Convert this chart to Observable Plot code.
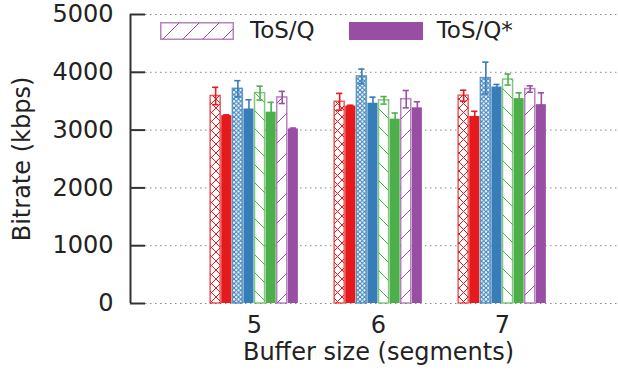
<!DOCTYPE html>
<html><head><meta charset="utf-8">
<script src="https://cdn.jsdelivr.net/npm/d3@7"></script>
<script src="https://cdn.jsdelivr.net/npm/@observablehq/plot@0.6"></script>
<style>
html,body{margin:0;padding:0;background:#fff;}
#wrap{position:relative;width:618px;height:371px;overflow:hidden;font-family:"DejaVu Sans",sans-serif;color:#222;}
#legend{position:absolute;left:160px;top:19px;display:flex;align-items:center;font-size:23px;line-height:1;}
#legend svg{display:block;}
</style></head><body>
<svg width="0" height="0" style="position:absolute">
<defs>
<pattern id="pat-red" patternUnits="userSpaceOnUse" width="9" height="9"><rect width="9" height="9" fill="white"/><path d="M0,0L9,9M9,0L0,9" stroke="#e41a1c" stroke-width="1"/></pattern>
<pattern id="pat-blue" patternUnits="userSpaceOnUse" width="4.5" height="4.5"><rect width="4.5" height="4.5" fill="white"/><path d="M0,0L4.5,4.5M4.5,0L0,4.5" stroke="#377eb8" stroke-width="1.1"/></pattern>
<pattern id="pat-green" patternUnits="userSpaceOnUse" width="18" height="18"><rect width="18" height="18" fill="white"/><path d="M0,0L18,18" stroke="#4daf4a" stroke-width="1"/></pattern>
<pattern id="pat-purple" patternUnits="userSpaceOnUse" width="20" height="20"><rect width="20" height="20" fill="white"/><path d="M0,20L20,0" stroke="#984ea3" stroke-width="1"/></pattern>
</defs></svg>
<div id="wrap"><div id="chart"></div>
<div id="legend">
  <svg width="74" height="18"><rect x="0.75" y="0.75" width="72.5" height="16.5" fill="url(#pat-purple)" stroke="#984ea3" stroke-opacity="0.7" stroke-width="1.5"/></svg>
  <span style="margin-left:16px">ToS/Q</span>
  <svg width="74" height="18" style="margin-left:34px"><rect width="74" height="18" fill="#984ea3"/></svg>
  <span style="margin-left:14px">ToS/Q*</span>
</div>
</div>
<script>
const buffers = [5, 6, 7];
const families = ["red", "blue", "green", "purple"];
const variants = ["ToS/Q", "ToS/Q*"];
const bitrate5 = [3590, 3250, 3715, 3365, 3640, 3310, 3565, 3020];
const error5   = [150, 15, 140, 160, 120, 170, 105, 15];
const bitrate6 = [3490, 3415, 3930, 3465, 3515, 3190, 3535, 3385];
const error6   = [145, 15, 125, 105, 65, 105, 150, 105];
const bitrate7 = [3595, 3235, 3900, 3745, 3875, 3545, 3710, 3440];
const error7   = [95, 90, 275, 45, 95, 100, 55, 205];
const yTicks = [0, 1000, 2000, 3000, 4000, 5000];

const bitrates = [bitrate5, bitrate6, bitrate7];
const errors = [error5, error6, error7];

// style config
const hex = {red: "#e41a1c", blue: "#377eb8", green: "#4daf4a", purple: "#984ea3"};
const slotW = 0.0895, barW = 0.081, capW = 0.05;

const rows = [];
buffers.forEach((b, j) => {
  bitrates[j].forEach((v, k) => {
    rows.push({
      buffer: b, slot: k,
      family: families[Math.floor(k / 2)],
      variant: variants[k % 2],
      value: v, err: errors[j][k]
    });
  });
});
const cx = d => d.buffer + (d.slot - 3.5) * slotW;
const hatched = rows.filter(d => d.variant === "ToS/Q");
const solid = rows.filter(d => d.variant === "ToS/Q*");

const hatchMarks = families.map(f => Plot.rectY(hatched.filter(d => d.family === f), {
  x1: d => cx(d) - barW / 2, x2: d => cx(d) + barW / 2, y: "value",
  fill: `url(#pat-${f})`, stroke: hex[f], strokeOpacity: 0.7, strokeWidth: 1.5
}));

const chart = Plot.plot({
  width: 618, height: 371,
  marginLeft: 130, marginRight: -8, marginTop: 14, marginBottom: 68,
  style: {fontFamily: "DejaVu Sans, sans-serif", fontSize: "24px", color: "#222", background: "transparent"},
  x: {domain: [4, 8]},
  y: {domain: [0, 5000]},
  marks: [
    Plot.gridY(yTicks, {stroke: "#888", strokeOpacity: 1, strokeDasharray: "1.5,3.5"}),
    ...hatchMarks,
    Plot.rectY(solid, {
      x1: d => cx(d) - barW / 2, x2: d => cx(d) + barW / 2, y: "value",
      fill: d => hex[d.family]
    }),
    Plot.ruleX(rows, {x: cx, y1: d => d.value - d.err, y2: d => d.value + d.err,
      stroke: d => hex[d.family], strokeWidth: 1.6}),
    Plot.ruleY(rows, {y: d => d.value + d.err, x1: d => cx(d) - capW / 2, x2: d => cx(d) + capW / 2,
      stroke: d => hex[d.family], strokeWidth: 1.6}),
    Plot.ruleY(rows, {y: d => d.value - d.err, x1: d => cx(d) - capW / 2, x2: d => cx(d) + capW / 2,
      stroke: d => hex[d.family], strokeWidth: 1.6}),
    Plot.ruleX([4], {stroke: "#333", strokeWidth: 2}),
    Plot.axisY({ticks: yTicks, tickSize: -15, tickPadding: 32, stroke: "#333", strokeWidth: 2,
      tickFormat: d => String(d),
      label: "Bitrate (kbps)", labelAnchor: "center", labelOffset: 118, labelArrow: "none", fontSize: 24}),
    Plot.axisX({ticks: buffers, tickSize: 0, tickPadding: 12, tickFormat: d => String(d),
      label: "Buffer size (segments)", labelAnchor: "center", labelOffset: 56, labelArrow: "none", fontSize: 24})
  ]
});
document.getElementById("chart").appendChild(chart);
</script>
</body></html>
